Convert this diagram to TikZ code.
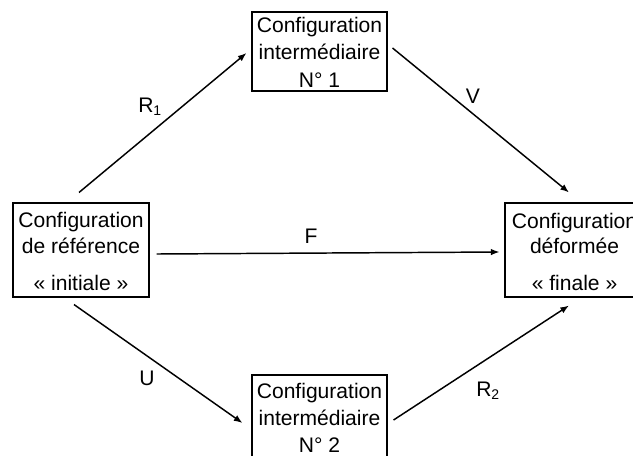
\documentclass[tikz,border=0pt]{standalone}
\usepackage{fontspec}
\setmainfont{Liberation Sans}
\usetikzlibrary{arrows.meta}
\begin{document}
\begin{tikzpicture}[x=0.75pt,y=-0.75pt,
  box/.style={draw,line width=0.8pt,inner sep=0pt,rectangle},
  txt/.style={anchor=base,inner sep=0pt,font=\fontsize{15.8}{19}\selectfont},
  lbl/.style={anchor=base west,inner sep=0pt,font=\fontsize{15.8}{19}\selectfont},
  arr/.style={line width=1.1pt,-{Latex[length=6.5pt,width=5pt]}}]
\useasboundingbox (0,0) rectangle (633,455);
% boxes
\node[box,minimum width=102pt,minimum height=70.5pt] (L) at (81,250) {};
\node[box,minimum width=103.5pt,minimum height=70.5pt] (R) at (574,250) {};
\node[box,minimum width=101.25pt,minimum height=59.25pt] (T) at (319.5,51.5) {};
\node[box,minimum width=101.25pt,minimum height=63pt] (B) at (319.5,417) {};
% texts
\node[txt] (L1) at (81,227) {Configuration};
\node[txt] (L2) at (81,253) {de référence};
\node[txt] (L3) at (81,290) {« initiale »};
\node[txt] (R1t) at (574.5,228) {Configuration};
\node[txt] (R2t) at (574.5,253) {déformée};
\node[txt] (R3t) at (574.5,290) {« finale »};
\node[txt] (T1) at (319.5,32) {Configuration};
\node[txt] (T2) at (319.5,59) {intermédiaire};
\node[txt] (T3) at (319.5,87) {N° 1};
\node[txt] (B1) at (319.5,398) {Configuration};
\node[txt] (B2) at (319.5,425) {intermédiaire};
\node[txt] (B3) at (319.5,452) {N° 2};
% arrows
\draw[arr] ([shift={(-2,-10)}]L.north) -- ([shift={(-5,1.5)}]T.west);
\draw[arr] ([shift={(5,-3.5)}]T.east) -- ([shift={(-5,-10)}]R.north);
\draw[arr] ([shift={(7,4)}]L.east) -- ([shift={(-5,2)}]R.west);
\draw[arr] ([shift={(-7,7)}]L.south) -- ([shift={(-9,6)}]B.west);
\draw[arr] ([shift={(6,3)}]B.east) -- ([shift={(-5,8)}]R.south);
% labels
\node[lbl] (lR1) at (138,112) {R\raisebox{-0.35ex}{\fontsize{10.5}{12}\selectfont 1}};
\node[txt] (lV) at (473,103) {V};
\node[txt] (lF) at (311,243) {F};
\node[txt] (lU) at (147,385) {U};
\node[lbl] (lR2) at (476,396) {R\raisebox{-0.35ex}{\fontsize{10.5}{12}\selectfont 2}};
\end{tikzpicture}
\end{document}
